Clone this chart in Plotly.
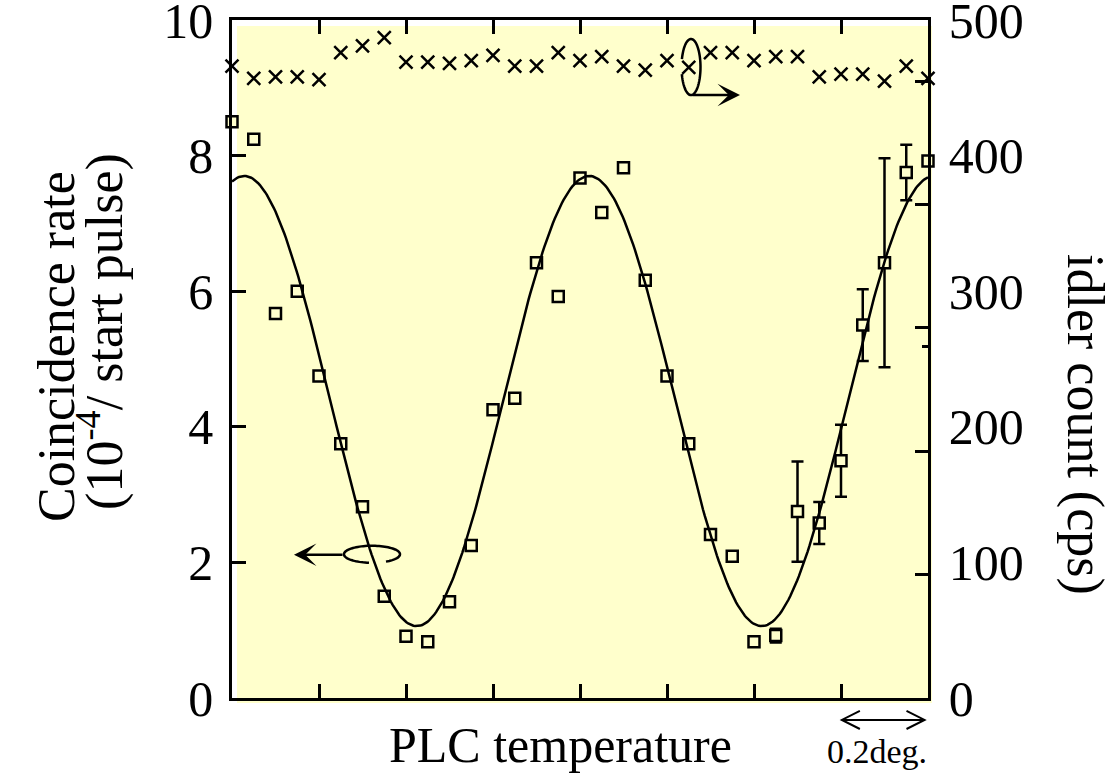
import numpy as np
import plotly.graph_objects as go

# PLC temperature offset (deg), one reading every 0.05 deg
temp_deg = [0.00, 0.05, 0.10, 0.15, 0.20, 0.25, 0.30, 0.35, 0.40, 0.45, 0.50,
            0.55, 0.60, 0.65, 0.70, 0.75, 0.80, 0.85, 0.90, 0.95, 1.00, 1.05,
            1.10, 1.15, 1.20, 1.25, 1.30, 1.35, 1.40, 1.45, 1.50, 1.55, 1.60]

# coincidence rate (1e-4 per start pulse)
coinc_rate = [8.50, 8.24, 5.67, 6.00, 4.75, 3.75, 2.82, 1.50, 0.91, 0.83, 1.42,
              2.25, 4.25, 4.42, 6.42, 5.92, 7.67, 7.16, 7.82, 6.16, 4.75, 3.75,
              2.41, 2.09, 0.83, 0.92, 2.75, 2.58, 3.50, 5.50, 6.42, 7.75, 7.92]

# error bars on the last runs (None = no error bar drawn)
coinc_err = [None] * 25 + [0.10, 0.74, 0.31, 0.53, 0.53, 1.54, 0.41, None]

# idler singles count (cps)
idler_cps = [466, 457, 458, 458, 456, 476, 481, 487, 469, 469, 468,
             470, 474, 466, 466, 476, 470, 473, 466, 463, 470, 465,
             476, 476, 470, 473, 473, 458, 460, 460, 455, 466, 457]

# sinusoidal fit of the coincidence rate
FIT_MEAN = 4.38
FIT_AMP = 3.32
FIT_PERIOD_DEG = 0.793
FIT_PEAK_DEG = 0.028

left_ticks = [0, 2, 4, 6, 8, 10]
right_labels = [0, 100, 200, 300, 400, 500]
right_marks = [91, 182, 273, 364, 455]
right_minor = [259]

FONT = "Liberation Serif"
BG = "#FFFFCC"
LW = 2.5
TITLE_SIZE = 52

fit_x = np.linspace(0, 1.6, 400)
fit_y = FIT_MEAN + FIT_AMP * np.cos(2 * np.pi * (fit_x - FIT_PEAK_DEG) / FIT_PERIOD_DEG)

has_err = [e is not None for e in coinc_err]
sq_marker = dict(symbol="square", size=11, color=BG, line=dict(color="black", width=LW))

fig = go.Figure()

# idler counts on the right axis
fig.add_trace(go.Scatter(
    x=temp_deg, y=idler_cps, yaxis="y2", mode="markers", cliponaxis=False,
    marker=dict(symbol="x-thin", size=13, line=dict(color="black", width=LW)),
    showlegend=False, hoverinfo="skip"))

# coincidence points without error bars
fig.add_trace(go.Scatter(
    x=[t for t, h in zip(temp_deg, has_err) if not h],
    y=[c for c, h in zip(coinc_rate, has_err) if not h],
    mode="markers", marker=sq_marker, cliponaxis=False,
    showlegend=False, hoverinfo="skip"))

# coincidence points with error bars
fig.add_trace(go.Scatter(
    x=[t for t, h in zip(temp_deg, has_err) if h],
    y=[c for c, h in zip(coinc_rate, has_err) if h],
    error_y=dict(type="data", array=[e for e in coinc_err if e is not None],
                 color="black", thickness=LW, width=6),
    mode="markers", marker=sq_marker, cliponaxis=False,
    showlegend=False, hoverinfo="skip"))

# fit curve
fig.add_trace(go.Scatter(
    x=fit_x, y=fit_y, mode="lines", line=dict(color="black", width=LW),
    showlegend=False, hoverinfo="skip"))

# carrier for the extra right-hand tick marks
fig.add_trace(go.Scatter(x=[], y=[], yaxis="y3", showlegend=False, hoverinfo="skip"))


def ellipse_path(cx, cy, rx, ry, t0, t1, n=80):
    t = np.linspace(t0, t1, n)
    xs = cx + rx * np.cos(t)
    ys = cy + ry * np.sin(t)
    return "M " + " L ".join(f"{a:.5f},{b:.5f}" for a, b in zip(xs, ys))


shapes = [
    # pale yellow panel, slightly offset from the frame
    dict(type="rect", xref="paper", yref="paper", x0=5 / 696, x1=1 + 4 / 696,
         y0=-5 / 678, y1=1 - 6 / 678, fillcolor=BG, line=dict(width=0), layer="below"),
    # loop around the coincidence curve
    dict(type="path", xref="x", yref="y",
         path=ellipse_path(0.3218, 2.12, 0.0644, 0.1256, 5.236, 4.605 + 2 * np.pi),
         line=dict(color="black", width=LW)),
    # loop around the idler row
    dict(type="path", xref="x", yref="y",
         path=ellipse_path(1.0552, 9.306, 0.0218, 0.4136, 3.394, 2.852 + 2 * np.pi),
         line=dict(color="black", width=LW)),
    # 0.2 deg scale bar under the axis
    dict(type="line", xref="x", yref="paper", x0=1.402, x1=1.592, y0=-0.0324, y1=-0.0324,
         line=dict(color="black", width=2)),
    dict(type="path", xref="x", yref="paper",
         path="M 1.4434,-0.0191 L 1.402,-0.0324 L 1.4434,-0.0457",
         line=dict(color="black", width=2)),
    dict(type="path", xref="x", yref="paper",
         path="M 1.5506,-0.0191 L 1.592,-0.0324 L 1.5506,-0.0457",
         line=dict(color="black", width=2)),
]

title_font = dict(family=FONT, size=TITLE_SIZE, color="black")

annotations = [
    dict(x=0.1425, y=2.112, ax=0.2575, ay=2.112, xref="x", yref="y", axref="x", ayref="y",
         text="", showarrow=True, arrowhead=3, arrowsize=1.5, arrowwidth=LW, arrowcolor="black"),
    dict(x=1.1678, y=8.892, ax=1.0552, ay=8.892, xref="x", yref="y", axref="x", ayref="y",
         text="", showarrow=True, arrowhead=3, arrowsize=1.5, arrowwidth=LW, arrowcolor="black"),
    dict(x=-0.2514, y=0.5177, xref="paper", yref="paper", text="Coincidence rate",
         textangle=-90, showarrow=False, font=title_font,
         xanchor="center", yanchor="middle"),
    dict(x=-0.1882, y=0.5400, xref="paper", yref="paper",
         text="(10<sup>-4</sup>/ start pulse)",
         textangle=-90, showarrow=False, font=title_font,
         xanchor="center", yanchor="middle"),
    dict(x=1.2255, y=0.4027, xref="paper", yref="paper", text="idler count (cps)",
         textangle=90, showarrow=False, font=title_font,
         xanchor="center", yanchor="middle"),
    dict(x=0.4727, y=-0.0693, xref="paper", yref="paper", text="PLC temperature",
         showarrow=False, font=dict(family=FONT, size=50, color="black"),
         xanchor="center", yanchor="middle"),
    dict(x=0.9267, y=-0.0782, xref="paper", yref="paper", text="0.2deg.",
         showarrow=False, font=dict(family=FONT, size=34, color="black"),
         xanchor="center", yanchor="middle"),
]

tick_font = dict(family=FONT, size=50, color="black")

fig.update_layout(
    width=1117, height=776,
    margin=dict(l=232, r=189, t=20, b=78, autoexpand=False),
    plot_bgcolor="white", paper_bgcolor="white",
    showlegend=False,
    shapes=shapes, annotations=annotations,
    xaxis=dict(range=[0, 1.6], tickmode="linear", tick0=0, dtick=0.2,
               showticklabels=False, ticks="inside", ticklen=14, tickwidth=LW,
               tickcolor="black", showline=True, linecolor="black", linewidth=LW,
               mirror="ticks", showgrid=False, zeroline=False, automargin=False),
    yaxis=dict(range=[0, 10], tickmode="array", tickvals=left_ticks,
               ticks="inside", ticklen=14, tickwidth=LW, tickcolor="black",
               showline=True, linecolor="black", linewidth=LW, mirror=False,
               showgrid=False, zeroline=False, tickfont=tick_font, ticklabelstandoff=6,
               ticklabeloverflow="allow", automargin=False),
    yaxis2=dict(range=[0, 500], overlaying="y", side="right", tickmode="array",
                tickvals=right_labels, ticks="", showline=True, linecolor="black",
                linewidth=LW, showgrid=False, zeroline=False, tickfont=tick_font,
                ticklabelstandoff=8, ticklabeloverflow="allow", automargin=False),
    yaxis3=dict(range=[0, 500], overlaying="y", side="right", tickmode="array",
                tickvals=right_marks, ticks="inside", ticklen=13, tickwidth=LW,
                tickcolor="black", showticklabels=False, showline=False,
                showgrid=False, zeroline=False, automargin=False,
                minor=dict(tickmode="array", tickvals=right_minor, ticks="inside",
                           ticklen=6, tickwidth=LW, tickcolor="black", showgrid=False)),
)

fig.write_html("out.html")
